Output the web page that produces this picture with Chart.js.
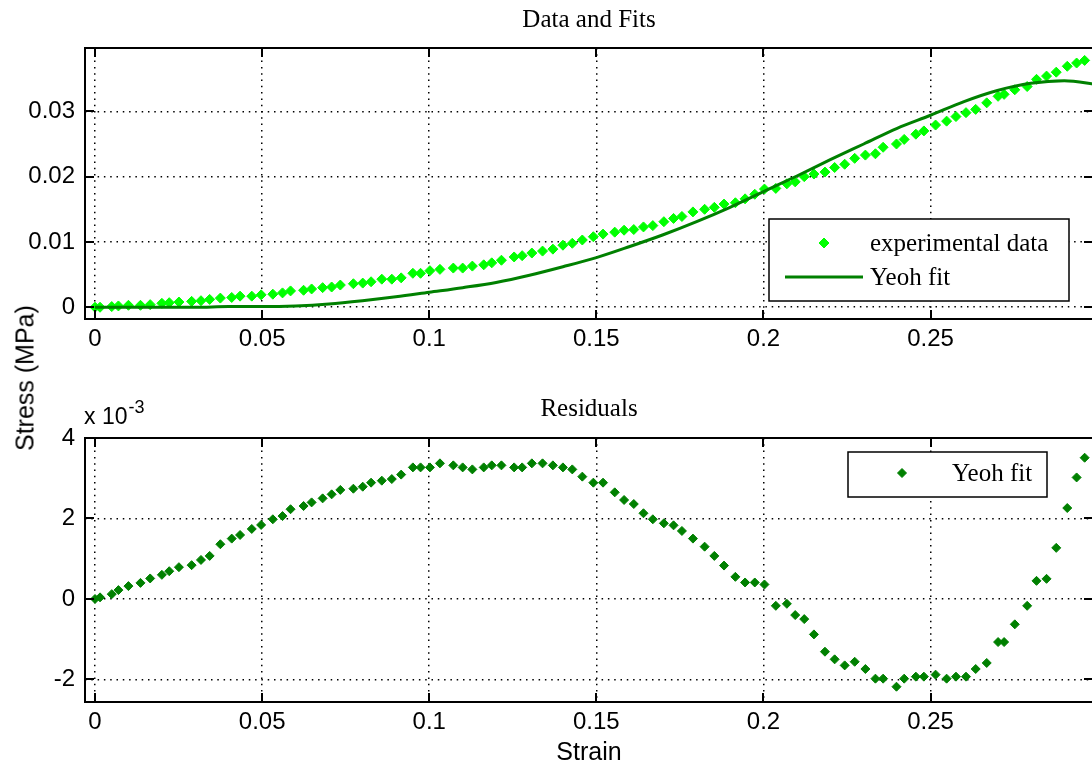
<!DOCTYPE html>
<html>
<head>
<meta charset="utf-8">
<script src="https://cdn.jsdelivr.net/npm/chart.js@4.4.1/dist/chart.umd.min.js"></script>
<style>
  html, body { margin: 0; padding: 0; background: #fff; overflow: hidden; }
  #wrap { position: relative; width: 1092px; height: 767px; overflow: hidden; }
  canvas { position: absolute; left: 0; }
  #top { top: 0; }
  #bottom { top: 390px; }
  .lbl { position: absolute; color: #000; white-space: nowrap; line-height: 1;
         font-family: 'Liberation Sans', Arial, sans-serif; }
  #ylab { font-size: 25px; left: 25px; top: 378px; transform: translate(-50%, -50%) rotate(-90deg); }
  #expo { font-size: 23px; left: 84px; top: 405px; }
  #expo span { position: relative; top: -11px; font-size: 18px; margin-left: 1px; }
</style>
</head>
<body>
<div id="wrap">
  <canvas id="top" width="1100" height="390"></canvas>
  <canvas id="bottom" width="1100" height="377"></canvas>
  <div class="lbl" id="ylab">Stress (MPa)</div>
  <div class="lbl" id="expo">x 10<span>-3</span></div>
</div>
<script>
// strain of each experimental sample
var strain = [0.0000, 0.0015, 0.0050, 0.0070, 0.0100, 0.0136, 0.0165, 0.0200, 0.0222, 0.0251,
              0.0289, 0.0317, 0.0343, 0.0375, 0.0409, 0.0434, 0.0469, 0.0497, 0.0532, 0.0561,
              0.0585, 0.0624, 0.0648, 0.0681, 0.0708, 0.0734, 0.0773, 0.0801, 0.0826, 0.0858,
              0.0888, 0.0916, 0.0951, 0.0974, 0.1002, 0.1032, 0.1072, 0.1100, 0.1129, 0.1163,
              0.1187, 0.1216, 0.1254, 0.1278, 0.1307, 0.1339, 0.1370, 0.1400, 0.1428, 0.1458,
              0.1491, 0.1520, 0.1555, 0.1583, 0.1612, 0.1641, 0.1669, 0.1702, 0.1731, 0.1756,
              0.1789, 0.1824, 0.1853, 0.1882, 0.1916, 0.1945, 0.1974, 0.2003, 0.2037, 0.2070,
              0.2095, 0.2122, 0.2151, 0.2184, 0.2213, 0.2243, 0.2273, 0.2305, 0.2335, 0.2358,
              0.2398, 0.2421, 0.2456, 0.2480, 0.2515, 0.2548, 0.2576, 0.2606, 0.2635, 0.2668,
              0.2702, 0.2720, 0.2752, 0.2789, 0.2817, 0.2847, 0.2876, 0.2909, 0.2937, 0.2961];

// experimental stress (MPa)
var stressData = [0.0000, 0.0000, 0.0001, 0.0002, 0.0003, 0.0003, 0.0004, 0.0006, 0.0007, 0.0008,
                  0.0009, 0.0010, 0.0012, 0.0014, 0.0015, 0.0017, 0.0017, 0.0019, 0.0020, 0.0022,
                  0.0025, 0.0026, 0.0028, 0.0030, 0.0031, 0.0034, 0.0036, 0.0037, 0.0039, 0.0043,
                  0.0043, 0.0045, 0.0052, 0.0052, 0.0056, 0.0058, 0.0060, 0.0060, 0.0063, 0.0065,
                  0.0068, 0.0072, 0.0077, 0.0079, 0.0083, 0.0086, 0.0089, 0.0095, 0.0098, 0.0103,
                  0.0108, 0.0112, 0.0115, 0.0118, 0.0119, 0.0123, 0.0125, 0.0131, 0.0136, 0.0139,
                  0.0146, 0.0150, 0.0153, 0.0158, 0.0160, 0.0166, 0.0173, 0.0181, 0.0182, 0.0189,
                  0.0192, 0.0200, 0.0204, 0.0207, 0.0214, 0.0219, 0.0228, 0.0233, 0.0235, 0.0245,
                  0.0250, 0.0257, 0.0265, 0.0270, 0.0279, 0.0285, 0.0292, 0.0298, 0.0303, 0.0313,
                  0.0323, 0.0326, 0.0333, 0.0338, 0.0349, 0.0354, 0.0360, 0.0369, 0.0374, 0.0378];

// residuals, in units of 1e-3 MPa
var residualsE3 = [0.00, 0.04, 0.12, 0.22, 0.32, 0.40, 0.51, 0.60, 0.69, 0.79,
                   0.84, 0.97, 1.07, 1.36, 1.50, 1.59, 1.74, 1.84, 1.98, 2.06,
                   2.23, 2.31, 2.40, 2.50, 2.60, 2.71, 2.74, 2.79, 2.89, 2.94,
                   2.98, 3.09, 3.27, 3.27, 3.27, 3.37, 3.32, 3.27, 3.22, 3.27,
                   3.32, 3.32, 3.27, 3.27, 3.37, 3.37, 3.32, 3.27, 3.22, 3.04,
                   2.89, 2.89, 2.65, 2.46, 2.36, 2.13, 1.98, 1.88, 1.83, 1.69,
                   1.50, 1.30, 1.07, 0.83, 0.55, 0.41, 0.41, 0.36, -0.17, -0.12,
                   -0.40, -0.50, -0.88, -1.31, -1.50, -1.65, -1.56, -1.74, -1.98, -1.98,
                   -2.18, -1.98, -1.93, -1.93, -1.88, -1.98, -1.93, -1.93, -1.74, -1.59,
                   -1.07, -1.07, -0.63, -0.17, 0.45, 0.50, 1.27, 2.26, 3.02, 3.51];

// Yeoh fit curve
var fitStrain = [0, 0.01, 0.02, 0.03, 0.04, 0.05, 0.06, 0.07, 0.08, 0.09, 0.10,
                 0.11, 0.12, 0.13, 0.14, 0.15, 0.16, 0.17, 0.18, 0.19, 0.20,
                 0.21, 0.22, 0.23, 0.24, 0.25, 0.26, 0.27, 0.28, 0.29, 0.30];
var fitStress = [0.0000, 0.0000, 0.0000, 0.0000, 0.0001, 0.0001, 0.0002, 0.0005, 0.0010, 0.0016, 0.0023,
                 0.0030, 0.0038, 0.0049, 0.0062, 0.0076, 0.0093, 0.0111, 0.0131, 0.0153, 0.0177,
                 0.0201, 0.0226, 0.0250, 0.0274, 0.0294, 0.0315, 0.0332, 0.0343, 0.0347, 0.0341];

var xTicks = [0, 0.05, 0.1, 0.15, 0.2, 0.25];
var yTicksTop = [0, 0.01, 0.02, 0.03];
var yTicksBottom = [-2, 0, 2, 4];

var darkGreen = 'rgb(0,128,0)';
var brightGreen = 'rgb(0,255,0)';
var tickFont = { family: "'Liberation Sans', Arial, sans-serif", size: 24 };
var serif = "'Liberation Serif', 'Times New Roman', serif";

function pts(xs, ys) {
  return xs.map(function (x, i) { return { x: x, y: ys[i] }; });
}

function diamond(ctx, x, y, r) {
  ctx.beginPath();
  ctx.moveTo(x, y - r); ctx.lineTo(x + r, y); ctx.lineTo(x, y + r); ctx.lineTo(x - r, y);
  ctx.closePath(); ctx.fill(); ctx.stroke();
}

// box, inward ticks and in-axes legend, matlab style
var matlabBox = {
  id: 'matlabBox',
  afterDraw: function (chart, args, opts) {
    var ctx = chart.ctx, a = chart.chartArea, sx = chart.scales.x, sy = chart.scales.y;
    ctx.save();
    ctx.strokeStyle = '#000';
    ctx.lineWidth = 2;
    ctx.strokeRect(a.left, a.top, a.right - a.left, a.bottom - a.top);
    ctx.beginPath();
    sx.ticks.forEach(function (t) {
      var px = Math.round(sx.getPixelForValue(t.value));
      ctx.moveTo(px, a.bottom); ctx.lineTo(px, a.bottom - 9);
      ctx.moveTo(px, a.top); ctx.lineTo(px, a.top + 9);
    });
    sy.ticks.forEach(function (t) {
      var py = Math.round(sy.getPixelForValue(t.value));
      ctx.moveTo(a.left, py); ctx.lineTo(a.left + 9, py);
      ctx.moveTo(a.right, py); ctx.lineTo(a.right - 9, py);
    });
    ctx.stroke();

    var lg = opts.legend;
    if (lg) {
      ctx.fillStyle = '#fff';
      ctx.fillRect(lg.box[0], lg.box[1], lg.box[2], lg.box[3]);
      ctx.lineWidth = 1.5;
      ctx.strokeStyle = '#000';
      ctx.strokeRect(lg.box[0], lg.box[1], lg.box[2], lg.box[3]);
      ctx.font = '25px ' + serif;
      ctx.textBaseline = 'middle';
      lg.items.forEach(function (it) {
        var ds = chart.data.datasets[it.ds];
        if (it.line) {
          ctx.strokeStyle = ds.borderColor;
          ctx.lineWidth = ds.borderWidth;
          ctx.beginPath(); ctx.moveTo(it.line[0], it.my); ctx.lineTo(it.line[1], it.my); ctx.stroke();
        } else {
          ctx.fillStyle = ds.pointBackgroundColor;
          ctx.strokeStyle = ds.pointBorderColor;
          ctx.lineWidth = 1;
          diamond(ctx, it.mx, it.my, ds.pointRadius);
        }
        ctx.fillStyle = '#000';
        ctx.textAlign = 'left';
        ctx.fillText(ds.label, it.tx, it.ty);
      });
    }
    ctx.restore();
  }
};

function axes(yTicks, yMin, yMax, xHeight, xTitle) {
  return {
    x: {
      type: 'linear', min: -0.003, max: 0.2986,
      afterBuildTicks: function (s) { s.ticks = xTicks.map(function (v) { return { value: v }; }); },
      afterFit: function (s) { s.height = xHeight; },
      grid: { color: '#000', lineWidth: 1.5, drawTicks: false },
      border: { display: false, dash: [1.5, 4.8] },
      ticks: { font: tickFont, color: '#000', padding: 6, maxRotation: 0, autoSkip: false,
               callback: function (v) { return String(v); } },
      title: xTitle ? { display: true, text: xTitle,
                        font: { family: tickFont.family, size: 25, lineHeight: 1 },
                        color: '#000', padding: { top: 0, bottom: 1 } } : { display: false }
    },
    y: {
      type: 'linear', min: yMin, max: yMax,
      afterBuildTicks: function (s) { s.ticks = yTicks.map(function (v) { return { value: v }; }); },
      afterFit: function (s) { s.width = 85; },
      grid: { color: '#000', lineWidth: 1.5, drawTicks: false },
      border: { display: false, dash: [1.5, 4.8] },
      ticks: { font: tickFont, color: '#000', padding: 10, autoSkip: false,
               callback: function (v) { return String(v); } }
    }
  };
}

var topConfig = {
  type: 'scatter',
  data: {
    datasets: [{
      label: 'Yeoh fit',
      data: pts(fitStrain, fitStress),
      showLine: true,
      borderColor: darkGreen,
      borderWidth: 3,
      pointRadius: 0,
      cubicInterpolationMode: 'monotone',
      order: 0
    }, {
      label: 'experimental data',
      data: pts(strain, stressData),
      pointStyle: 'rectRot',
      pointRadius: 5,
      pointBackgroundColor: brightGreen,
      pointBorderColor: brightGreen,
      pointBorderWidth: 1,
      order: 1
    }]
  },
  options: {
    responsive: false,
    animation: false,
    layout: { padding: { left: 0, right: 7, top: 0, bottom: 0 } },
    scales: axes(yTicksTop, -0.0018, 0.0397, 71, null),
    plugins: {
      legend: { display: false },
      tooltip: { enabled: false },
      title: { display: true, text: 'Data and Fits', fullSize: false, color: '#000',
               font: { family: serif, size: 25, weight: 'normal', lineHeight: 1.2 },
               padding: { top: 5, bottom: 13 } },
      matlabBox: {
        legend: {
          box: [769, 219, 300, 82],
          items: [
            { ds: 1, mx: 824, my: 243, tx: 870, ty: 244 },
            { ds: 0, line: [785, 863], my: 277, tx: 870, ty: 278 }
          ]
        }
      }
    }
  },
  plugins: [matlabBox]
};

var bottomConfig = {
  type: 'scatter',
  data: {
    datasets: [{
      label: 'Yeoh fit',
      data: pts(strain, residualsE3),
      pointStyle: 'rectRot',
      pointRadius: 4.5,
      pointBackgroundColor: darkGreen,
      pointBorderColor: darkGreen,
      pointBorderWidth: 1
    }]
  },
  options: {
    responsive: false,
    animation: false,
    layout: { padding: { left: 0, right: 7, top: 0, bottom: 0 } },
    scales: axes(yTicksBottom, -2.56, 4, 65, 'Strain'),
    plugins: {
      legend: { display: false },
      tooltip: { enabled: false },
      title: { display: true, text: 'Residuals', fullSize: false, color: '#000',
               font: { family: serif, size: 25, weight: 'normal', lineHeight: 1.2 },
               padding: { top: 4, bottom: 14 } },
      matlabBox: {
        legend: {
          box: [848, 62, 199, 45],
          items: [{ ds: 0, mx: 902, my: 83, tx: 952, ty: 84 }]
        }
      }
    }
  },
  plugins: [matlabBox]
};

var topChart = new Chart(document.getElementById('top').getContext('2d'), topConfig);
var bottomChart = new Chart(document.getElementById('bottom').getContext('2d'), bottomConfig);
</script>
</body>
</html>
